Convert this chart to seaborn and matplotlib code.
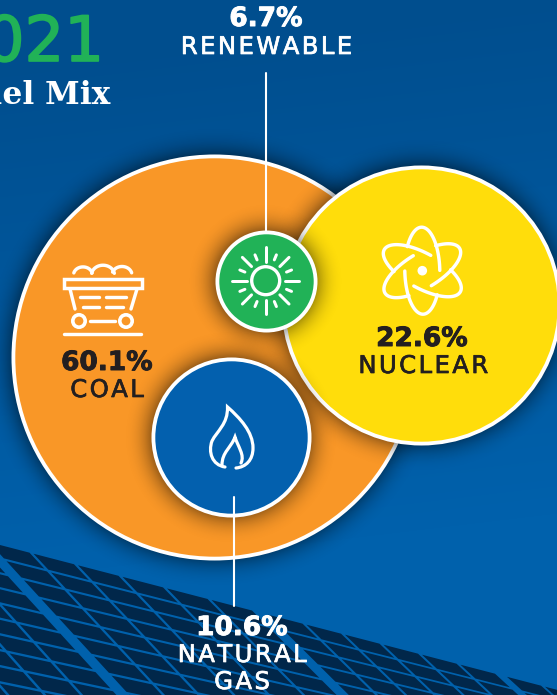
import numpy as np
import pandas as pd
import matplotlib
matplotlib.use("Agg")
import matplotlib.pyplot as plt
from matplotlib.collections import PolyCollection
from matplotlib.patches import Circle, PathPatch
from matplotlib.path import Path
import matplotlib.patheffects as pe
import seaborn as sns

# Fuel mix shares, in percent
sources = ["Coal", "Nuclear", "Renewable", "Natural Gas"]
shares = [60.1, 22.6, 6.7, 10.6]

W, H = 557, 695
bubble_x = [214, 421, 265.5, 231]
bubble_y = [357, 305, 281, 437]
bubble_radius = [203, 140, 51, 80]
bubble_fill = ["#F99727", "#FFDD0B", "#21B257", "#0360AE"]

sns.set_theme(style="white")
plt.rcParams["font.family"] = ["DejaVu Sans"]

fig = plt.figure(figsize=(W / 100, H / 100), dpi=100)
ax = fig.add_axes([0, 0, 1, 1])
ax.set_xlim(0, W)
ax.set_ylim(H, 0)
ax.axis("off")

# Background: deep blue lightening toward the bottom
yy, xx = np.mgrid[0:H, 0:W]
t = np.clip((yy - 60 + 0.12 * xx) / 520, 0, 1)
c0, c1 = np.array([0, 78, 142]) / 255, np.array([0, 97, 172]) / 255
bg = c0 + (c1 - c0) * t[..., None]
ax.imshow(bg, extent=(0, W, H, 0), zorder=0, aspect="auto")


# Solar array: rows of dark cells laid out along a sloping top edge
def panel_cells(left_edges, cell_w):
    cells = []
    for x0 in left_edges:
        x1 = x0 + cell_w - 4.0
        for row in range(18):
            vx0, vy0 = 17.5, 19 - 0.006 * x0
            vx1, vy1 = 17.5, 19 - 0.006 * x1
            top0 = 545 + 0.26 * x0
            top1 = 545 + 0.26 * x1
            cells.append([
                (x0 + row * vx0, top0 + row * vy0),
                (x1 + row * vx1, top1 + row * vy1),
                (x1 + (row + 0.85) * vx1, top1 + (row + 0.85) * vy1),
                (x0 + (row + 0.85) * vx0, top0 + (row + 0.85) * vy0),
            ])
    return cells


cell_list = []
cell_list += panel_cells(np.arange(-68 - 45 * 8, -60, 45), 45)
cell_list += panel_cells(np.arange(-11, 250, 44.5), 44.5)
cell_list += panel_cells(np.arange(268, 490, 38.5), 38.5)
cell_list += panel_cells(np.arange(507, 590, 38), 38)
ax.add_collection(PolyCollection(cell_list, facecolors="#01274A", edgecolors="none", zorder=1))
ax.set_xlim(0, W)
ax.set_ylim(H, 0)


def drop_shadow(cx, cy, r, z, strength=0.36, spread=30):
    d = np.hypot(xx + 0.5 - cx, yy + 0.5 - cy)
    a = strength * np.clip((r + spread - d) / spread, 0, 1) ** 2.5
    img = np.zeros((H, W, 4))
    img[..., 3] = a
    ax.imshow(img, extent=(0, W, H, 0), zorder=z, aspect="auto")


frame = pd.DataFrame({"source": sources, "share": shares, "x": bubble_x, "y": bubble_y})
STROKE_PX = 3.8
size_by_share = {
    v: (2 * (r - STROKE_PX / 2) * 0.72) ** 2 for v, r in zip(shares, bubble_radius)
}

# Painting order: coal, nuclear, then the two small bubbles on top
for i, name in enumerate(sources):
    z = 3 + 2 * i
    drop_shadow(bubble_x[i], bubble_y[i], bubble_radius[i], z)
    sns.scatterplot(
        data=frame[frame["source"] == name], x="x", y="y",
        size="share", sizes=size_by_share, legend=False, ax=ax,
        color=bubble_fill[i], edgecolor="white", linewidth=STROKE_PX * 0.72,
        zorder=z + 1, clip_on=False,
    )
ax.set_xlim(0, W)
ax.set_ylim(H, 0)
ax.set_xlabel("")
ax.set_ylabel("")

ICON = 20
WHITE = "white"


def stroke(xs, ys, lw=3.4, color=WHITE):
    ax.plot(xs, ys, color=color, lw=lw * 0.72, solid_capstyle="round", zorder=ICON)


# Leader lines
ax.plot([266, 266], [73, 232], color=WHITE, lw=1.5, zorder=9)
ax.plot([234, 234], [497, 606], color=WHITE, lw=1.5, zorder=ICON)

# Coal cart
ax.add_patch(plt.Rectangle((64, 279), 78, 9, fc="none", ec=WHITE, lw=2.5, zorder=ICON))
stroke([70, 75], [289, 309])
stroke([137, 131], [289, 309])
for a, b, y in [(80, 99, 297), (106, 126, 297), (83, 99, 307), (106, 123, 307), (90, 115, 321), (64, 141, 334)]:
    stroke([a, b], [y, y])
for cx in (79, 126):
    ax.add_patch(Circle((cx, 321), 6.2, fc="none", ec=WHITE, lw=2.6, zorder=ICON))
for cx, cy, r, a0, a1 in [(83, 275, 9.5, 195, 345), (103, 275, 11.5, 190, 350), (122, 275, 10, 200, 345)]:
    th = np.radians(np.linspace(a0, a1, 30))
    stroke(cx + r * np.cos(th), cy + r * np.sin(th) * 0.85)

# Sun
sx, sy = 265.7, 280.7
ax.add_patch(Circle((sx, sy), 14, fc="none", ec=WHITE, lw=2.4, zorder=ICON))
for k in range(16):
    ang = np.radians(k * 22.5)
    if k % 2:
        r0, r1 = 22.5, 28
    elif k % 4:
        r0, r1 = 20, 33
    else:
        r0, r1 = 19, 33.5
    stroke([sx + r0 * np.cos(ang), sx + r1 * np.cos(ang)],
           [sy + r0 * np.sin(ang), sy + r1 * np.sin(ang)], lw=3.0)

# Flame
M, C = Path.MOVETO, Path.CURVE4
outer = Path(
    [(225, 467), (212, 465), (208, 452), (212, 441),
     (217, 431), (228, 424), (227.5, 407),
     (240, 418), (253, 432), (253, 448), (253, 460), (246, 467), (236, 468)],
    [M, C, C, C, C, C, C, C, C, C, C, C, C],
)
inner = Path(
    [(222, 465), (222, 452), (231, 448), (235, 437),
     (238, 447), (245, 455), (241, 463)],
    [M, C, C, C, C, C, C],
)
for p in (outer, inner):
    ax.add_patch(PathPatch(p, fc="none", ec=WHITE, lw=2.3, capstyle="round", zorder=ICON))

# Atom
atom_c = (422.3, 270.7)
ax.add_patch(Circle(atom_c, 4.8, fc=WHITE, ec="none", zorder=ICON))
for rot in (-1, 59, 119):
    phi = np.radians(rot)
    for a0, a1 in [(0, 146), (180, 326)]:
        th = np.radians(np.linspace(a0, a1, 60))
        ex, ey = 17.5 * np.cos(th), -43.5 * np.sin(th)
        stroke(atom_c[0] + ex * np.cos(phi) - ey * np.sin(phi),
               atom_c[1] + ex * np.sin(phi) + ey * np.cos(phi), lw=3.4)

# Text labels; hair spaces give the capitals their wide tracking
HAIR = "\u200a"


def tracked(s):
    return HAIR.join(s)


def heavier(color, width):
    return [pe.withStroke(linewidth=width, foreground=color)]


DARK = "#231F20"
value_labels = [f"{v:.1f}%" for v in shares]
label_color = [DARK, DARK, WHITE, WHITE]
value_pos = [(107, 363), (422, 339), (266, 19), (242, 628)]
name_lines = [["COAL"], ["NUCLEAR"], ["RENEWABLE"], ["NATURAL", "GAS"]]
name_pos = [(107, 390), (423, 366), (266, 47), (242, 655)]
for i in range(4):
    ax.text(*value_pos[i], value_labels[i], color=label_color[i], ha="center", va="center",
            fontsize=19, fontweight="bold", zorder=ICON,
            path_effects=heavier(label_color[i], 0.7))
    for j, line in enumerate(name_lines[i]):
        ax.text(name_pos[i][0], name_pos[i][1] + 27 * j, tracked(line), color=label_color[i],
                ha="center", va="center", fontsize=17.5, zorder=ICON,
                path_effects=heavier(label_color[i], 0.5))

# Heading, cut by the left edge of the figure
ax.text(104, 44, "2021", color="#21B257", ha="right", va="center", fontsize=45,
        clip_on=False, zorder=ICON, path_effects=heavier("#21B257", 1.2))
ax.text(110, 95, "Fuel Mix", color=WHITE, ha="right", va="center", fontsize=22.5,
        family="DejaVu Serif", fontweight="bold", clip_on=False, zorder=ICON)

fig.savefig("out.png", dpi=100)
